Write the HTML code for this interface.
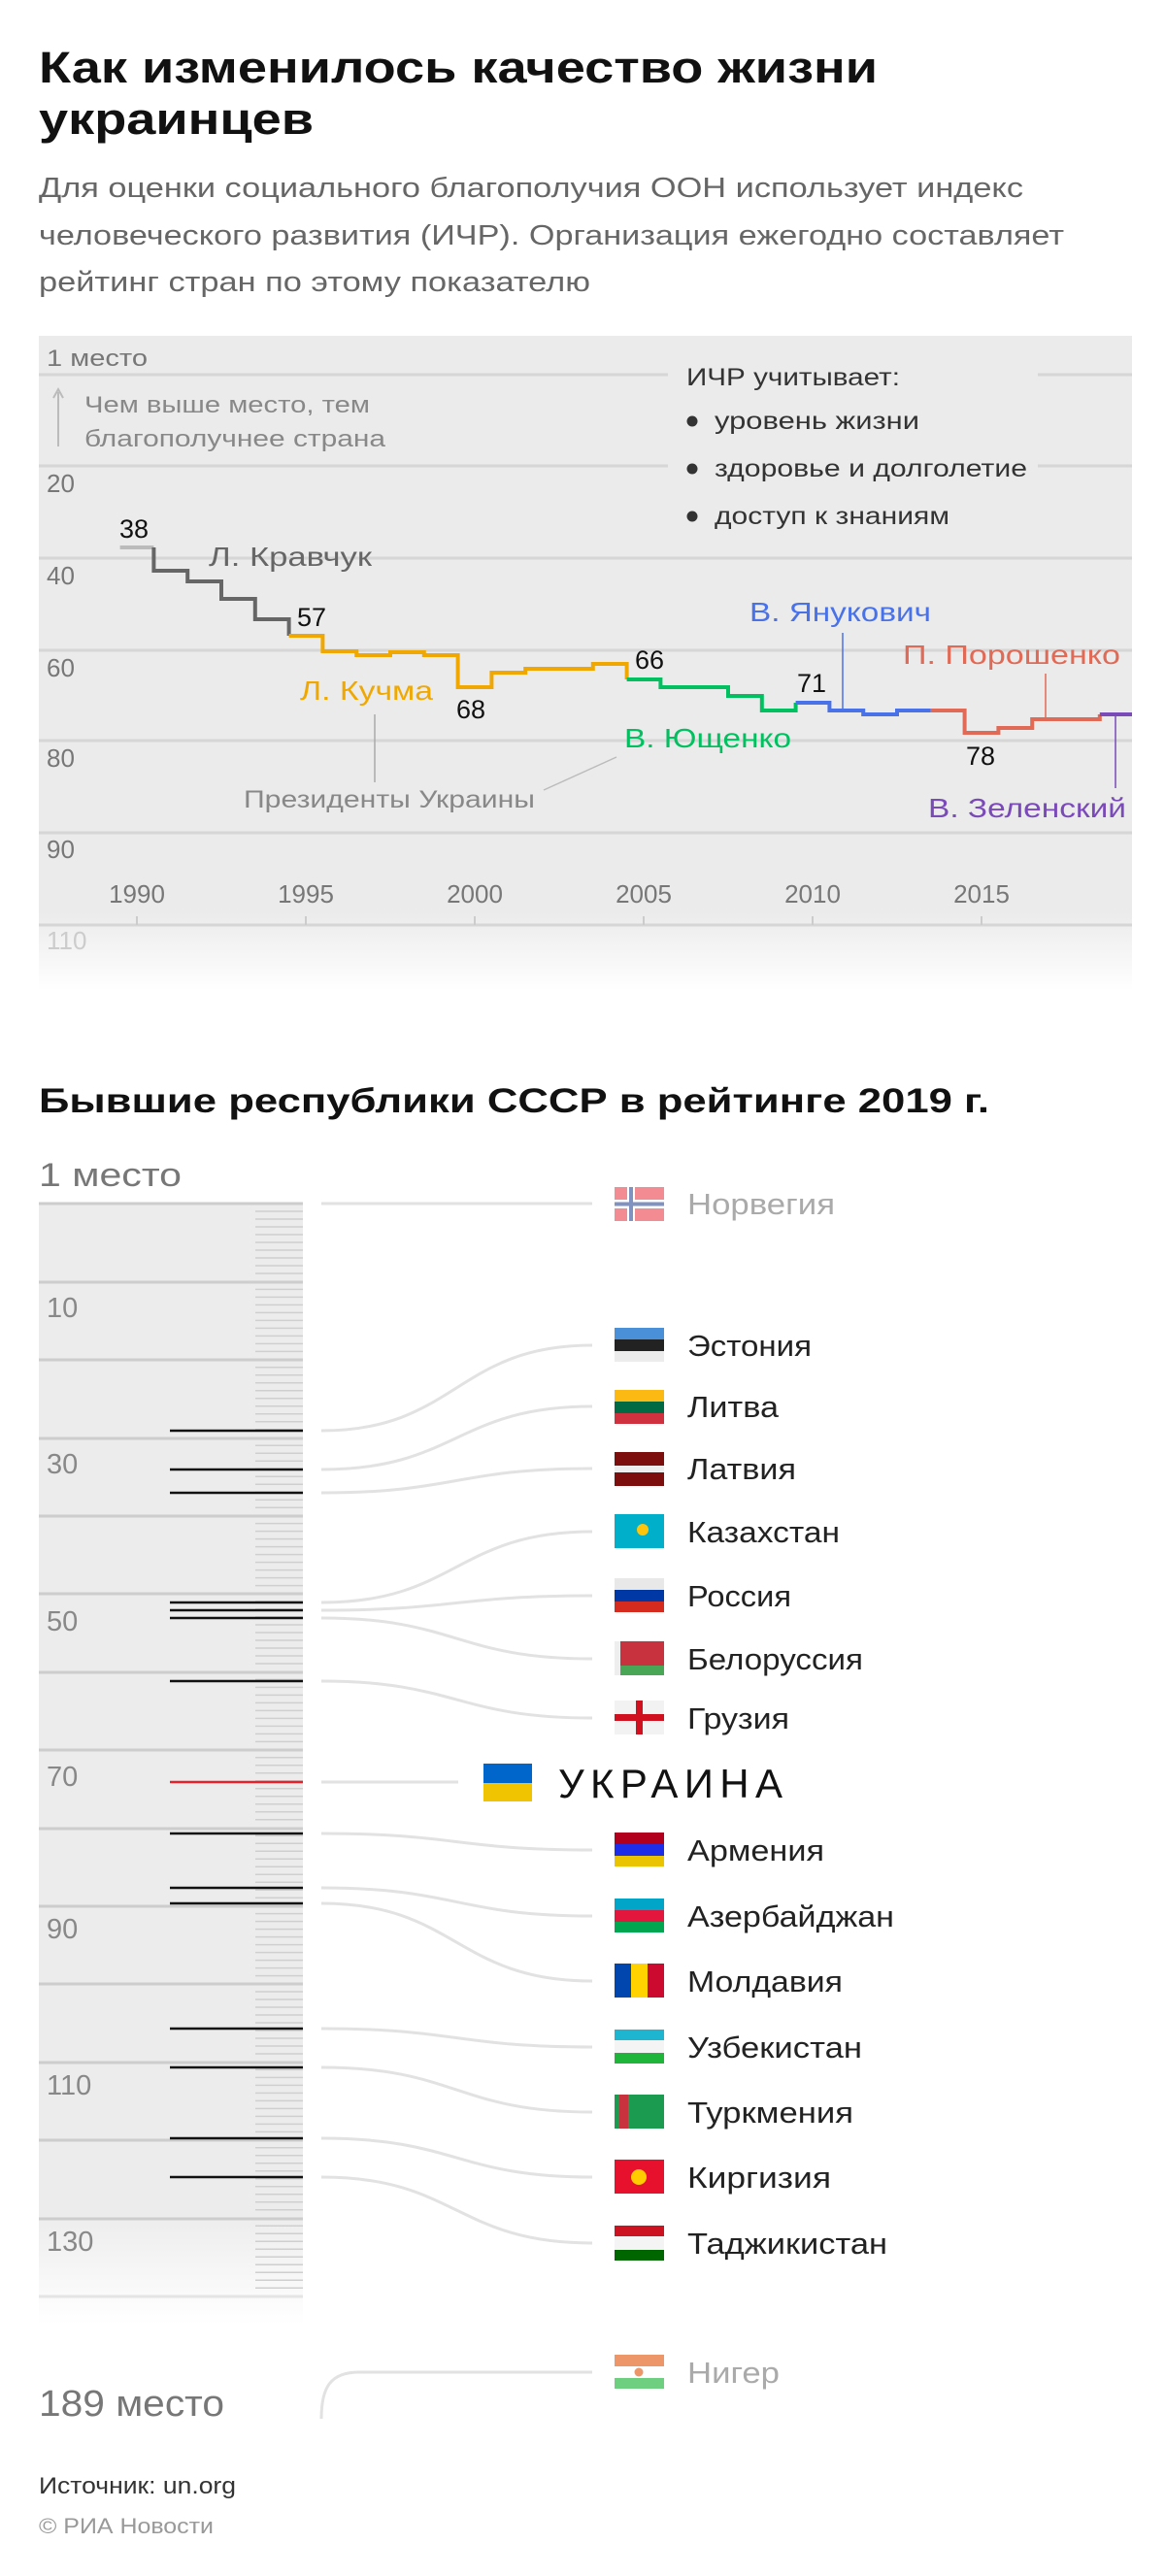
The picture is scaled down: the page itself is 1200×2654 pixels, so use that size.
<!DOCTYPE html>
<html><head><meta charset="utf-8"><style>
html,body{margin:0;padding:0;background:#fff;}
svg{display:block;font-family:"Liberation Sans","Noto Sans CJK SC",sans-serif;}
</style></head><body>
<svg width="1200" height="2654" viewBox="0 0 1200 2654" xmlns="http://www.w3.org/2000/svg">
<defs>
<linearGradient id="g1" x1="0" y1="0" x2="0" y2="1">
<stop offset="0" stop-color="#ebebeb"/><stop offset="0.88" stop-color="#ebebeb"/><stop offset="1" stop-color="#fff"/></linearGradient>
<linearGradient id="g2" x1="0" y1="0" x2="0" y2="1">
<stop offset="0" stop-color="#ececec"/><stop offset="0.9" stop-color="#ececec"/><stop offset="1" stop-color="#fff"/></linearGradient>
</defs>
<text x="40" y="85" font-size="45" font-weight="bold" fill="#111" textLength="864" lengthAdjust="spacingAndGlyphs">Как изменилось качество жизни</text>
<text x="40" y="138" font-size="45" font-weight="bold" fill="#111" textLength="283" lengthAdjust="spacingAndGlyphs">украинцев</text>
<g font-size="29" fill="#666">
<text x="40" y="203" textLength="1014" lengthAdjust="spacingAndGlyphs">Для оценки социального благополучия ООН использует индекс</text>
<text x="40" y="252" textLength="1056" lengthAdjust="spacingAndGlyphs">человеческого развития (ИЧР). Организация ежегодно составляет</text>
<text x="40" y="300" textLength="568" lengthAdjust="spacingAndGlyphs">рейтинг стран по этому показателю</text>
</g>
<rect x="40" y="346" width="1126" height="675" fill="url(#g1)"/>
<g stroke="#d6d6d6" stroke-width="3">
<line x1="40" x2="1166" y1="386" y2="386"/><line x1="40" x2="1166" y1="480" y2="480"/>
<line x1="40" x2="1166" y1="575" y2="575"/><line x1="40" x2="1166" y1="670" y2="670"/>
<line x1="40" x2="1166" y1="763" y2="763"/><line x1="40" x2="1166" y1="858" y2="858"/>
<line x1="40" x2="1166" y1="953" y2="953"/>
</g>
<rect x="688" y="372" width="381" height="180" fill="#ebebeb"/>
<g font-size="26" fill="#777">
<text x="48" y="377" font-size="24" textLength="104" lengthAdjust="spacingAndGlyphs">1 место</text>
<text x="48" y="507">20</text><text x="48" y="602">40</text><text x="48" y="697">60</text>
<text x="48" y="790">80</text><text x="48" y="884">90</text>
<text x="48" y="978" fill="#ccc">110</text>
</g>
<line x1="60" y1="404" x2="60" y2="460" stroke="#bbb" stroke-width="2"/>
<path d="M55 410 L60 401 L65 410" fill="none" stroke="#bbb" stroke-width="2"/>
<g font-size="24" fill="#888">
<text x="87" y="425" textLength="294" lengthAdjust="spacingAndGlyphs">Чем выше место, тем</text>
<text x="87" y="460" textLength="310" lengthAdjust="spacingAndGlyphs">благополучнее страна</text>
</g>
<g font-size="25" fill="#333">
<text x="707" y="397" textLength="220" lengthAdjust="spacingAndGlyphs">ИЧР учитывает:</text>
<circle cx="713" cy="434" r="5.5" fill="#333"/><text x="736" y="442" textLength="211" lengthAdjust="spacingAndGlyphs">уровень жизни</text>
<circle cx="713" cy="483" r="5.5" fill="#333"/><text x="736" y="491" textLength="322" lengthAdjust="spacingAndGlyphs">здоровье и долголетие</text>
<circle cx="713" cy="532" r="5.5" fill="#333"/><text x="736" y="540" textLength="242" lengthAdjust="spacingAndGlyphs">доступ к знаниям</text>
</g>
<g font-size="26" fill="#777" text-anchor="middle">
<text x="141" y="930">1990</text><text x="315" y="930">1995</text><text x="489" y="930">2000</text>
<text x="663" y="930">2005</text><text x="837" y="930">2010</text><text x="1011" y="930">2015</text>
</g>
<g stroke="#ccc" stroke-width="2">
<line x1="141" x2="141" y1="944" y2="953"/><line x1="315" x2="315" y1="944" y2="953"/><line x1="489" x2="489" y1="944" y2="953"/>
<line x1="663" x2="663" y1="944" y2="953"/><line x1="837" x2="837" y1="944" y2="953"/><line x1="1011" x2="1011" y1="944" y2="953"/>
</g>
<g stroke-width="1.5" fill="none">
<line x1="386" y1="736" x2="386" y2="806" stroke="#aaa"/>
<line x1="560" y1="814" x2="635" y2="780" stroke="#bbb"/>
<line x1="868" y1="652" x2="868" y2="731" stroke="#4a72e8"/>
<line x1="1077" y1="694" x2="1077" y2="739" stroke="#e06a55"/>
<line x1="1149" y1="736" x2="1149" y2="812" stroke="#7a4ab8"/>
</g>
<g fill="none" stroke-width="4">
<path d="M123.6 564 H158.4" stroke="#bbb"/>
<path d="M158.4 564 V588 H193.2 V599 H228 V617 H262.8 V638 H297.6 V655" stroke="#666"/>
<path d="M297.6 655 H332.4 V671 H367.2 V675 H402 V672 H436.8 V675 H471.6 V708 H506.4 V693 H541.2 V689 H610.8 V684 H645.6 V700" stroke="#f0a800"/>
<path d="M645.6 700 H680.4 V708 H750 V717 H784.8 V732 H819.6 V724" stroke="#00c060"/>
<path d="M819.6 724 H854.4 V732 H889.2 V736 H924 V732 H958.8" stroke="#4a72e8"/>
<path d="M958.8 732 H993.6 V755 H1028.4 V750 H1063.2 V741 H1132.8 V736" stroke="#e06a55"/>
<path d="M1132.8 736 H1166" stroke="#7a4ab8"/>
</g>
<g font-size="27" fill="#111" text-anchor="middle">
<text x="138" y="554">38</text><text x="321" y="645">57</text><text x="485" y="740">68</text>
<text x="669" y="689">66</text><text x="836" y="713">71</text><text x="1010" y="788">78</text>
</g>
<g font-size="28">
<text x="215" y="583" fill="#666" textLength="168" lengthAdjust="spacingAndGlyphs">Л. Кравчук</text>
<text x="309" y="721" fill="#f0a800" textLength="137" lengthAdjust="spacingAndGlyphs">Л. Кучма</text>
<text x="643" y="770" fill="#00c060" textLength="172" lengthAdjust="spacingAndGlyphs">В. Ющенко</text>
<text x="772" y="640" fill="#4a72e8" textLength="187" lengthAdjust="spacingAndGlyphs">В. Янукович</text>
<text x="930" y="684" fill="#e06a55" textLength="224" lengthAdjust="spacingAndGlyphs">П. Порошенко</text>
<text x="956" y="842" fill="#7a4ab8" textLength="204" lengthAdjust="spacingAndGlyphs">В. Зеленский</text>
</g>
<text x="251" y="832" font-size="25" fill="#888" textLength="300" lengthAdjust="spacingAndGlyphs">Президенты Украины</text>

<text x="40" y="1146" font-size="35" font-weight="bold" fill="#111" textLength="979" lengthAdjust="spacingAndGlyphs">Бывшие республики СССР в рейтинге 2019 г.</text>
<text x="40" y="1222" font-size="34" fill="#777" textLength="147" lengthAdjust="spacingAndGlyphs">1 место</text>
<rect x="40" y="1240" width="272" height="1155" fill="url(#g2)"/>
<g stroke="#cdcdcd" stroke-width="3">
<line x1="40" x2="312" y1="1240" y2="1240"/><line x1="40" x2="312" y1="1321" y2="1321"/>
<line x1="40" x2="312" y1="1401" y2="1401"/><line x1="40" x2="312" y1="1482" y2="1482"/>
<line x1="40" x2="312" y1="1562" y2="1562"/><line x1="40" x2="312" y1="1642" y2="1642"/>
<line x1="40" x2="312" y1="1723" y2="1723"/><line x1="40" x2="312" y1="1803" y2="1803"/>
<line x1="40" x2="312" y1="1884" y2="1884"/><line x1="40" x2="312" y1="1964" y2="1964"/>
<line x1="40" x2="312" y1="2044" y2="2044"/><line x1="40" x2="312" y1="2125" y2="2125"/>
<line x1="40" x2="312" y1="2205" y2="2205"/><line x1="40" x2="312" y1="2286" y2="2286"/>
<line x1="40" x2="312" y1="2366" y2="2366" stroke="#e4e4e4"/>
</g>
<path id="minor" stroke="#cfcfcf" stroke-width="1.5" fill="none" d="M263 1248H312M263 1256H312M263 1264H312M263 1272H312M263 1280H312M263 1288H312M263 1296H312M263 1304H312M263 1312H312"/>
<use href="#minor" y="80.4"/><use href="#minor" y="160.8"/><use href="#minor" y="241.2"/><use href="#minor" y="321.6"/>
<use href="#minor" y="402"/><use href="#minor" y="482.4"/><use href="#minor" y="562.8"/><use href="#minor" y="643.2"/>
<use href="#minor" y="723.6"/><use href="#minor" y="804"/><use href="#minor" y="884.4"/><use href="#minor" y="964.8"/>
<use href="#minor" y="1045.2"/>
<g font-size="29" fill="#888">
<text x="48" y="1357">10</text><text x="48" y="1518">30</text><text x="48" y="1680">50</text>
<text x="48" y="1840">70</text><text x="48" y="1997">90</text><text x="48" y="2158">110</text><text x="48" y="2319">130</text>
</g>
<g stroke="#111" stroke-width="2.5">
<line x1="175" x2="312" y1="1474" y2="1474"/><line x1="175" x2="312" y1="1514" y2="1514"/>
<line x1="175" x2="312" y1="1538" y2="1538"/><line x1="175" x2="312" y1="1651" y2="1651"/>
<line x1="175" x2="312" y1="1659" y2="1659"/><line x1="175" x2="312" y1="1667" y2="1667"/>
<line x1="175" x2="312" y1="1732" y2="1732"/>
<line x1="175" x2="312" y1="1889" y2="1889"/><line x1="175" x2="312" y1="1945" y2="1945"/>
<line x1="175" x2="312" y1="1961" y2="1961"/><line x1="175" x2="312" y1="2090" y2="2090"/>
<line x1="175" x2="312" y1="2130" y2="2130"/><line x1="175" x2="312" y1="2203" y2="2203"/>
<line x1="175" x2="312" y1="2243" y2="2243"/>
</g>
<line x1="175" x2="312" y1="1836" y2="1836" stroke="#e8202a" stroke-width="2.5"/>
<g stroke="#e2e2e2" stroke-width="3" fill="none">
<path d="M331 1240 H610"/>
<path d="M331 1474 C470 1474 470 1386 610 1386"/>
<path d="M331 1514 C470 1514 470 1449 610 1449"/>
<path d="M331 1538 C470 1538 470 1513 610 1513"/>
<path d="M331 1651 C470 1651 470 1578 610 1578"/>
<path d="M331 1659 C470 1659 470 1644 610 1644"/>
<path d="M331 1667 C470 1667 470 1709 610 1709"/>
<path d="M331 1732 C470 1732 470 1770 610 1770"/>
<path d="M331 1836 H472"/>
<path d="M331 1889 C470 1889 470 1906 610 1906"/>
<path d="M331 1945 C470 1945 470 1974 610 1974"/>
<path d="M331 1961 C470 1961 470 2041 610 2041"/>
<path d="M331 2090 C470 2090 470 2109 610 2109"/>
<path d="M331 2130 C470 2130 470 2176 610 2176"/>
<path d="M331 2203 C470 2203 470 2243 610 2243"/>
<path d="M331 2243 C470 2243 470 2311 610 2311"/>
<path d="M331 2492 C331 2460 340 2444 370 2444 H610"/>
</g>
<g opacity="0.55">
<rect x="633" y="1223" width="51" height="35" fill="#e8303a"/>
<rect x="646" y="1223" width="8" height="35" fill="#fff"/><rect x="633" y="1236" width="51" height="9" fill="#fff"/>
<rect x="648" y="1223" width="4" height="35" fill="#1a3a8c"/><rect x="633" y="1238.5" width="51" height="4" fill="#1a3a8c"/>
</g>
<g>
<rect x="633" y="1368" width="51" height="12" fill="#4a90d9"/><rect x="633" y="1380" width="51" height="12" fill="#222"/><rect x="633" y="1392" width="51" height="11" fill="#ececec"/>
<rect x="633" y="1432" width="51" height="12" fill="#fdb913"/><rect x="633" y="1444" width="51" height="12" fill="#006a44"/><rect x="633" y="1456" width="51" height="11" fill="#d0313e"/>
<rect x="633" y="1496" width="51" height="14" fill="#7d0e0e"/><rect x="633" y="1510" width="51" height="7" fill="#eee"/><rect x="633" y="1517" width="51" height="14" fill="#7d0e0e"/>
<rect x="633" y="1560" width="51" height="35" fill="#00afca"/><circle cx="662" cy="1576" r="6" fill="#fec50c"/>
<rect x="633" y="1626" width="51" height="12" fill="#e8e8e8"/><rect x="633" y="1638" width="51" height="12" fill="#0039a6"/><rect x="633" y="1650" width="51" height="11" fill="#d52b1e"/>
<rect x="633" y="1691" width="51" height="25" fill="#c8313e"/><rect x="633" y="1716" width="51" height="10" fill="#4aa657"/><rect x="633" y="1691" width="6" height="35" fill="#eee"/>
<rect x="633" y="1752" width="51" height="35" fill="#f2f2f2"/><rect x="655" y="1752" width="7" height="35" fill="#d0101e"/><rect x="633" y="1766" width="51" height="7" fill="#d0101e"/>
<rect x="498" y="1817" width="50" height="20" fill="#0066cc"/><rect x="498" y="1837" width="50" height="19" fill="#f0c400"/>
<rect x="633" y="1888" width="51" height="12" fill="#b0001e"/><rect x="633" y="1900" width="51" height="12" fill="#1e2ee8"/><rect x="633" y="1912" width="51" height="11" fill="#eac400"/>
<rect x="633" y="1956" width="51" height="12" fill="#00a5c8"/><rect x="633" y="1968" width="51" height="12" fill="#e3173e"/><rect x="633" y="1980" width="51" height="11" fill="#00a650"/>
<rect x="633" y="2023" width="17" height="35" fill="#0046ae"/><rect x="650" y="2023" width="17" height="35" fill="#ffd200"/><rect x="667" y="2023" width="17" height="35" fill="#cc092f"/>
<rect x="633" y="2091" width="51" height="11" fill="#1eb5d0"/><rect x="633" y="2102" width="51" height="13" fill="#f4f4f4"/><rect x="633" y="2115" width="51" height="11" fill="#1eb53a"/>
<rect x="633" y="2158" width="51" height="35" fill="#1a9b50"/><rect x="638" y="2158" width="9" height="35" fill="#c8313e"/>
<rect x="633" y="2225" width="51" height="35" fill="#e8112d"/><circle cx="658" cy="2243" r="8" fill="#ffcc00"/>
<rect x="633" y="2293" width="51" height="11" fill="#cc1120"/><rect x="633" y="2304" width="51" height="14" fill="#f4f4f4"/><rect x="633" y="2318" width="51" height="11" fill="#006600"/>
</g>
<g opacity="0.6">
<rect x="633" y="2426" width="51" height="12" fill="#e05206"/><rect x="633" y="2438" width="51" height="12" fill="#fff"/><rect x="633" y="2450" width="51" height="11" fill="#0db02b"/><circle cx="658" cy="2444" r="4.5" fill="#e05206"/>
</g>
<g font-size="31" fill="#222">
<text x="708" y="1251" fill="#aaa" textLength="152" lengthAdjust="spacingAndGlyphs">Норвегия</text>
<text x="708" y="1397" textLength="128" lengthAdjust="spacingAndGlyphs">Эстония</text>
<text x="708" y="1460" textLength="94" lengthAdjust="spacingAndGlyphs">Литва</text>
<text x="708" y="1524" textLength="112" lengthAdjust="spacingAndGlyphs">Латвия</text>
<text x="708" y="1589" textLength="157" lengthAdjust="spacingAndGlyphs">Казахстан</text>
<text x="708" y="1655" textLength="107" lengthAdjust="spacingAndGlyphs">Россия</text>
<text x="708" y="1720" textLength="181" lengthAdjust="spacingAndGlyphs">Белоруссия</text>
<text x="708" y="1781" textLength="105" lengthAdjust="spacingAndGlyphs">Грузия</text>
<text x="708" y="1917" textLength="141" lengthAdjust="spacingAndGlyphs">Армения</text>
<text x="708" y="1985" textLength="213" lengthAdjust="spacingAndGlyphs">Азербайджан</text>
<text x="708" y="2052" textLength="160" lengthAdjust="spacingAndGlyphs">Молдавия</text>
<text x="708" y="2120" textLength="180" lengthAdjust="spacingAndGlyphs">Узбекистан</text>
<text x="708" y="2187" textLength="171" lengthAdjust="spacingAndGlyphs">Туркмения</text>
<text x="708" y="2254" textLength="148" lengthAdjust="spacingAndGlyphs">Киргизия</text>
<text x="708" y="2322" textLength="206" lengthAdjust="spacingAndGlyphs">Таджикистан</text>
<text x="708" y="2455" fill="#aaa" textLength="95" lengthAdjust="spacingAndGlyphs">Нигер</text>
</g>
<text x="575" y="1852" font-size="42" fill="#111" textLength="231" lengthAdjust="spacing">УКРАИНА</text>
<text x="40" y="2489" font-size="38" fill="#777" textLength="191" lengthAdjust="spacingAndGlyphs">189 место</text>
<text x="40" y="2569" font-size="24" fill="#333" textLength="203" lengthAdjust="spacingAndGlyphs">Источник: un.org</text>
<text x="40" y="2610" font-size="22" fill="#999" textLength="180" lengthAdjust="spacingAndGlyphs">© РИА Новости</text>
</svg>
</body></html>
